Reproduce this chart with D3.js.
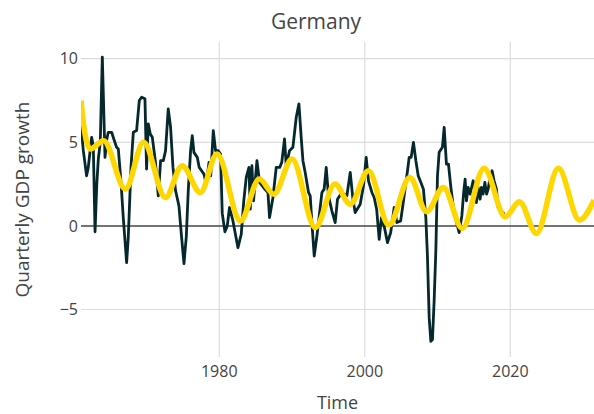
<!DOCTYPE html>
<html>
<head>
<meta charset="utf-8">
<script src="https://cdn.jsdelivr.net/npm/d3@7"></script>
<style>
  body { margin: 0; background: #fff; }
  svg text { font-family: "Open Sans", sans-serif; fill: #444; }
</style>
</head>
<body>
<svg id="chart"></svg>
<script>
// actual quarterly growth (year, value)
const actualYears = [1961.00,1961.32,1961.77,1962.00,1962.46,1962.69,1962.93,1963.17,1963.38,1963.65,1963.93,1964.30,1964.55,1964.75,1965.21,1965.51,1965.89,1966.13,1966.50,1966.81,1967.27,1967.50,1967.87,1968.19,1968.64,1969.01,1969.33,1969.79,1970.01,1970.25,1970.52,1970.80,1971.21,1971.62,1971.94,1972.31,1972.62,1972.99,1973.31,1973.64,1974.00,1974.46,1974.82,1975.15,1975.47,1975.74,1976.06,1976.29,1976.52,1976.98,1977.25,1977.57,1977.90,1978.21,1978.59,1978.83,1979.18,1979.49,1979.86,1980.18,1980.41,1980.78,1981.10,1981.41,1981.88,1982.57,1983.02,1983.37,1983.71,1984.08,1984.26,1984.49,1984.71,1985.18,1985.54,1985.91,1986.25,1986.69,1986.91,1987.38,1987.83,1988.31,1988.59,1988.97,1989.20,1989.66,1990.12,1990.58,1990.95,1991.26,1991.50,1991.81,1992.27,1992.50,1992.73,1993.05,1993.42,1993.74,1994.11,1994.42,1994.70,1995.01,1995.48,1995.93,1996.25,1996.85,1997.54,1998.00,1998.37,1998.68,1999.37,1999.82,2000.19,2000.51,2000.98,2001.29,2001.63,2001.98,2002.29,2002.66,2003.12,2003.56,2004.04,2004.41,2004.93,2005.32,2005.62,2005.87,2006.10,2006.37,2006.69,2007.02,2007.34,2007.71,2008.06,2008.39,2008.61,2008.85,2009.08,2009.30,2009.53,2009.77,2009.99,2010.22,2010.67,2010.91,2011.22,2011.50,2011.83,2012.18,2012.55,2012.97,2013.34,2013.59,2013.79,2013.97,2014.20,2014.48,2014.89,2015.16,2015.34,2015.58,2015.85,2016.03,2016.26,2016.50,2016.74,2016.95,2017.18,2017.50,2017.77,2018.09,2018.32,2018.67,2019.01,2019.29];
const actualGrowth = [6.0,4.5,3.0,3.5,5.3,4.8,-0.35,2.5,4.0,5.0,10.1,4.1,5.2,5.6,5.6,5.2,4.7,4.6,2.6,0.5,-2.2,-0.65,3.5,5.6,5.7,7.5,7.7,7.6,3.4,6.1,5.5,5.3,3.9,1.8,3.9,3.9,4.5,7.0,5.9,3.5,2.1,1.2,-0.65,-2.25,-0.65,2.1,4.5,5.4,4.4,4.1,3.5,3.3,3.1,2.5,3.8,3.0,5.7,4.5,4.5,4.3,0.75,-0.35,0.0,1.1,0.3,-1.3,-0.5,1.5,2.9,3.5,1.0,3.6,1.5,3.9,2.6,2.4,2.2,2.0,0.5,1.7,3.5,3.5,3.8,5.2,3.6,4.5,4.7,6.5,7.3,5.3,3.9,3.2,2.0,1.8,0.2,-1.8,-0.6,0.6,2.0,2.2,3.5,1.8,0.9,0.2,1.6,2.0,1.8,3.2,1.6,0.8,1.3,2.4,4.1,2.7,2.0,1.7,1.0,-0.8,0.5,0.0,-1.0,-0.4,1.1,0.2,0.3,1.5,2.5,3.3,4.1,4.1,5.0,3.9,3.0,2.6,2.2,0.5,-1.8,-5.5,-6.9,-6.8,-4.5,-1.4,3.0,4.4,4.7,5.9,3.7,3.7,2.3,1.1,0.3,-0.4,0.6,2.0,2.8,1.5,2.3,1.9,2.7,1.9,1.4,2.3,1.6,2.3,1.9,2.6,1.9,2.2,2.8,3.3,2.7,2.2,1.1,0.9,0.8,0.5];

// smooth cyclical fit, extended forward
const fitYears = [1961.0,1961.55,1962.28,1964.1,1967.1,1969.6,1972.6,1974.9,1977.4,1979.7,1982.9,1985.5,1987.5,1990.0,1993.2,1995.9,1998.0,2000.5,2003.3,2006.2,2008.5,2010.8,2013.4,2016.4,2019.3,2021.25,2023.6,2026.6,2029.5,2031.5];
const fitGrowth = [7.5,5.5,4.6,5.1,2.2,5.0,1.7,3.6,2.0,4.3,0.3,2.8,1.9,4.0,-0.1,2.5,1.3,3.3,0.05,2.9,0.85,2.3,-0.15,3.45,0.55,1.45,-0.45,3.45,0.35,1.55];

const xTicks = [1980, 2000, 2020];
const yTicks = [-5, 0, 5, 10];

const width = 594, height = 414;
const margin = { top: 42, right: 0, bottom: 57, left: 81 };

const svg = d3.select("#chart").attr("width", width).attr("height", height);

const x = d3.scaleLinear().domain([1961.0, 2031.5]).range([margin.left, width - margin.right]);
const y = d3.scaleLinear().domain([-7.84, 11.0]).range([height - margin.bottom, margin.top]);

// grid
svg.append("g").selectAll("line")
    .data(xTicks)
    .join("line")
    .attr("x1", d => x(d)).attr("x2", d => x(d))
    .attr("y1", margin.top).attr("y2", height - margin.bottom)
    .attr("stroke", "#dcdcdc").attr("stroke-width", 1.2);

svg.append("g").selectAll("line")
    .data(yTicks.filter(d => d !== 0))
    .join("line")
    .attr("x1", margin.left).attr("x2", width - margin.right)
    .attr("y1", d => y(d)).attr("y2", d => y(d))
    .attr("stroke", "#dcdcdc").attr("stroke-width", 1.2);

svg.append("line")
    .attr("x1", margin.left).attr("x2", width - margin.right)
    .attr("y1", y(0)).attr("y2", y(0))
    .attr("stroke", "#444").attr("stroke-width", 1.5);

// tick labels
svg.append("g").selectAll("text")
    .data(yTicks)
    .join("text")
    .attr("x", margin.left - 3)
    .attr("y", d => y(d))
    .attr("dy", "0.35em")
    .attr("text-anchor", "end")
    .style("font-size", "16px")
    .text(d => d < 0 ? "\u2212" + Math.abs(d) : d);

svg.append("g").selectAll("text")
    .data(xTicks)
    .join("text")
    .attr("x", d => x(d))
    .attr("y", height - margin.bottom + 14)
    .attr("dy", "0.35em")
    .attr("text-anchor", "middle")
    .style("font-size", "16px")
    .text(d => d);

// lines
svg.append("defs").append("clipPath").attr("id", "clip")
    .append("rect")
    .attr("x", margin.left).attr("y", margin.top)
    .attr("width", width - margin.left - margin.right)
    .attr("height", height - margin.top - margin.bottom);

const plot = svg.append("g").attr("clip-path", "url(#clip)");

const actual = actualYears.map((t, i) => [t, actualGrowth[i]]);
const fit = fitYears.map((t, i) => [t, fitGrowth[i]]);

plot.append("path")
    .datum(actual)
    .attr("fill", "none")
    .attr("stroke", "#05282d")
    .attr("stroke-width", 2.8)
    .attr("stroke-linejoin", "round")
    .attr("d", d3.line().x(d => x(d[0])).y(d => y(d[1])));

plot.append("path")
    .datum(fit)
    .attr("fill", "none")
    .attr("stroke", "#ffd700")
    .attr("stroke-width", 5.5)
    .attr("stroke-linejoin", "round")
    .attr("d", d3.line().curve(d3.curveMonotoneX).x(d => x(d[0])).y(d => y(d[1])));

// titles
svg.append("text")
    .attr("x", 316).attr("y", 22)
    .attr("dy", "0.35em")
    .attr("text-anchor", "middle")
    .style("font-size", "21px")
    .text("Germany");

svg.append("text")
    .attr("x", (margin.left + width - margin.right) / 2)
    .attr("y", 403)
    .attr("dy", "0.35em")
    .attr("text-anchor", "middle")
    .style("font-size", "18px")
    .text("Time");

svg.append("text")
    .attr("transform", `translate(22,${(margin.top + height - margin.bottom) / 2}) rotate(-90)`)
    .attr("dy", "0.35em")
    .attr("text-anchor", "middle")
    .style("font-size", "19px")
    .text("Quarterly GDP growth");
</script>
</body>
</html>
